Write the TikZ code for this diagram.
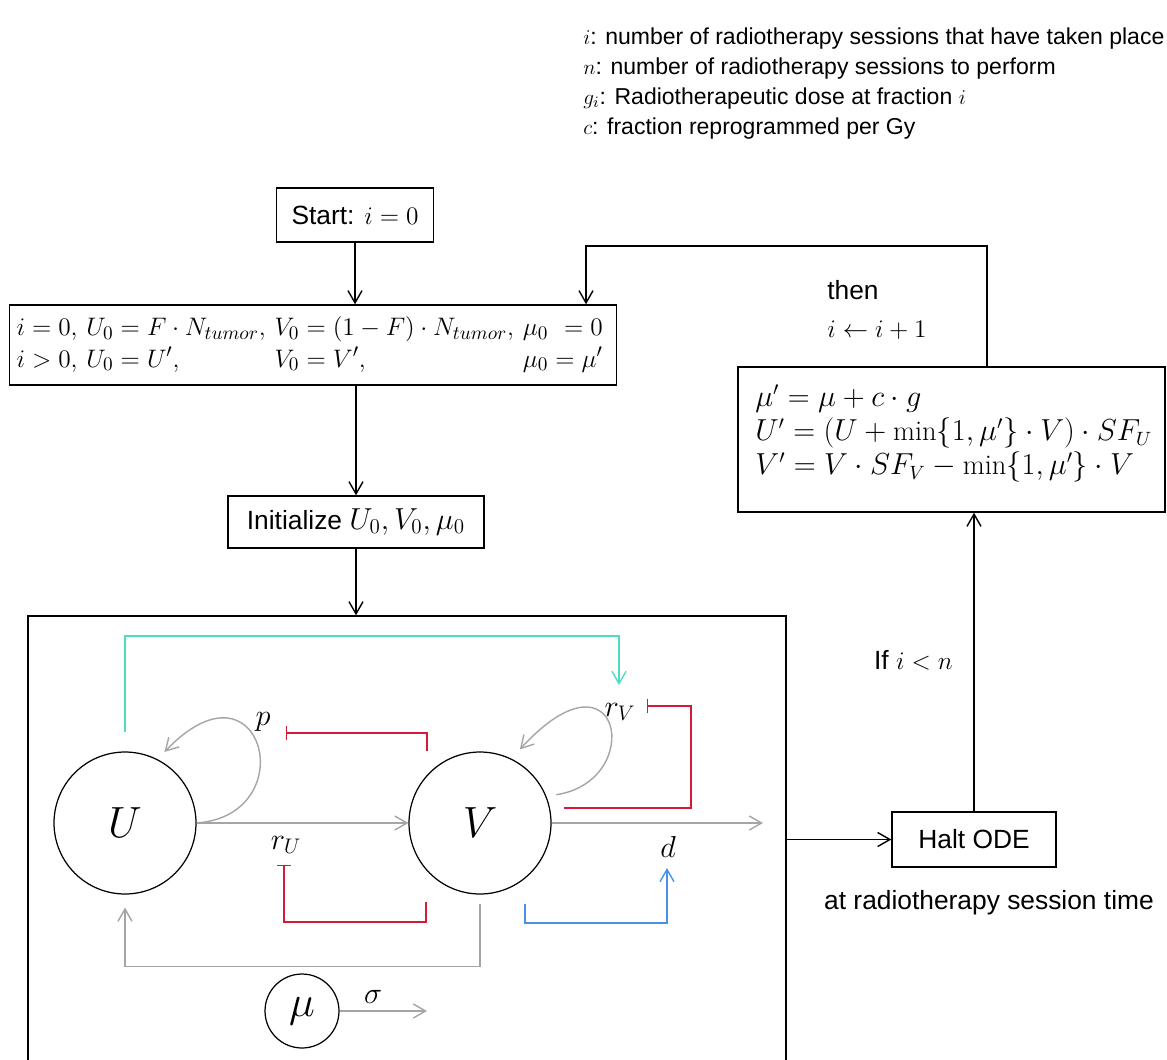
\documentclass[tikz,border=0pt]{standalone}
\usepackage{amsmath}
\usepackage{fontspec}
\setmainfont{Liberation Sans}
\setmathrm{Latin Modern Roman}
\usetikzlibrary{arrows.meta, positioning, calc, fit}
\definecolor{myteal}{RGB}{80,220,190}
\definecolor{myred}{RGB}{215,25,55}
\definecolor{myblue}{RGB}{75,145,230}
\definecolor{mygray}{RGB}{165,165,165}
\tikzset{
  box/.style={rectangle, draw, thick, inner sep=4pt},
  state/.style={circle, draw, line width=0.7pt, minimum size=2.84cm,
    inner sep=0pt, font=\fontsize{34}{40}\selectfont},
  rate/.style={inner sep=0pt, font=\fontsize{17}{20}\selectfont},
  arrow/.style={-{Straight Barb[length=7pt,width=8pt]}, thick},
  grayarrow/.style={-{Straight Barb[length=7pt,width=8pt]}, thick, color=mygray},
  tealarrow/.style={-{Straight Barb[length=7pt,width=8pt]}, thick, color=myteal},
  bluearrow/.style={-{Straight Barb[length=7pt,width=8pt]}, thick, color=myblue},
  inhibit/.style={-{Bar[width=8pt]}, thick, color=myred}
}
\begin{document}
\begin{tikzpicture}[x=0.02cm, y=-0.02cm, every node/.style={font=\fontsize{15}{18}\selectfont}]
  \useasboundingbox (0,0) rectangle (1167,1059);
  \clip (0,0) rectangle (1167,1059);

  % Legend
  \node[anchor=north west, align=left, inner sep=0pt, font=\fontsize{13.1}{17.07}\selectfont] (legend) at (583,27)
    {$i$: number of radiotherapy sessions that have taken place\\
     $n$: number of radiotherapy sessions to perform\\
     $g_i$: Radiotherapeutic dose at fraction $i$\\
     $c$: fraction reprogrammed per Gy};

  % Flow boxes
  \node[box, minimum width=3.14cm, minimum height=1.08cm] (start) at (355,215) {Start: $i = 0$};
  \node[box, inner xsep=0.14cm, text width=11.86cm, minimum height=1.6cm, align=left] (initc) at (313,345)
    {$\begin{array}{@{}l@{\ }l@{\ }l@{\ }l@{}}
      i = 0, & U_0 = F\cdot N_{tumor}, & V_0 = (1-F)\cdot N_{tumor}, & \mu_0\ = 0\\
      i > 0, & U_0 = U', & V_0 = V', & \mu_0 = \mu'
     \end{array}$};
  \node[box, minimum width=5.12cm, minimum height=1.04cm] (initz) at (356,522)
    {Initialize {\fontsize{18}{20}\selectfont$U_0, V_0, \mu_0$}};
  \node[draw, thick, fit={(28,616) (786,1100)}, inner sep=0pt] (ode) {};
  \node[box, minimum width=3.28cm, minimum height=1.1cm] (halt) at (974,839.5) {Halt ODE};
  \node[box, minimum width=8.54cm, minimum height=2.9cm] (update) at (951.5,439.5) {};
  \node[anchor=north west, align=left, inner sep=0pt, font=\fontsize{16.2}{19.6}\selectfont] (updtext) at (755,384)
    {$\mu' = \mu + c\cdot g$\\
     $U' = (U + \min\{1, \mu'\}\cdot V)\cdot SF_U$\\
     $V' = V\cdot SF_V - \min\{1, \mu'\}\cdot V$};

  % Flow labels
  \node[anchor=west, align=left, inner sep=0pt, font=\fontsize{15}{21.6}\selectfont] (then) at (827,310)
    {then\\ $i \gets i + 1$};
  \node[anchor=east, inner sep=0pt] (cond) at (953,660) {If $i < n$};
  \node (when) at (989,903) {at radiotherapy session time};

  % Compartments
  \node[state] (U) at (125,823) {$U$};
  \node[state] (V) at (480,823) {$V$};
  \node[state, minimum size=1.48cm] (mu) at (302,1011) {$\mu$};

  % Rates
  \node[rate] (p) at (263,722) {$p$};
  \node[rate] (rU) at (286,845) {$r_U$};
  \node[rate] (rV) at (620,712) {$r_V$};
  \node[rate] (d) at (668,847) {$d$};
  \node[rate] (sigma) at (373,997) {$\sigma$};

  \coordinate (vout) at (763,823);
  \coordinate (muout) at (427,1011);
  \coordinate (tealtop) at (619,636);
  \coordinate (pbar) at (286,733);
  \coordinate (rVbar) at (647,706);
  \coordinate (rUbar) at (284,865);
  \coordinate (dtip) at (667,868);
  \coordinate (loopc) at (586,246);

  % Flow arrows
  \draw[arrow] (start.south) -- (start.south |- initc.north);
  \draw[arrow] (initc.south -| initz.north) -- (initz.north);
  \draw[arrow] (initz.south) -- (initz.south |- ode.north);
  \draw[arrow] (ode.east |- halt.west) -- (halt.west);
  \draw[arrow] (halt.north) -- (halt.north |- update.south);
  \draw[arrow] ([xshift=0.71cm]update.north) |- (loopc) -- (loopc |- initc.north);

  % Transitions
  \draw[grayarrow] (U) -- (V);
  \draw[grayarrow] (V) -- (vout);
  \draw[grayarrow] (mu) -- (muout);
  \draw[grayarrow, shorten >=0.2cm] (U.east) .. controls +(108,-8) and +(105,-110) .. (U.63);
  \draw[grayarrow, shorten <=0.2cm, shorten >=0.25cm] (V.22) .. controls +(100,-15) and +(110,-120) .. (V.64);
  \draw[grayarrow, shorten >=0.26cm] ($(V.south)+(0,9)$) |- ($(U.south)+(0,72)$) -- (U.south);

  % Regulation
  \draw[tealarrow] ([yshift=0.38cm]U.north) |- (tealtop) -- ($(tealtop)+(0,49)$);
  \draw[inhibit] ($(V.north)+(-53,0)$) |- (pbar);
  \draw[inhibit] ($(V.east)+(12,-15)$) -| ($(rVbar)+(44,0)$) -- (rVbar);
  \draw[inhibit] ($(V.south)+(-54,7)$) |- ($(rUbar)+(0,57)$) -- (rUbar);
  \draw[bluearrow] ($(V.south)+(45,9)$) |- ($(dtip)+(0,55)$) -- (dtip);
\end{tikzpicture}
\end{document}
